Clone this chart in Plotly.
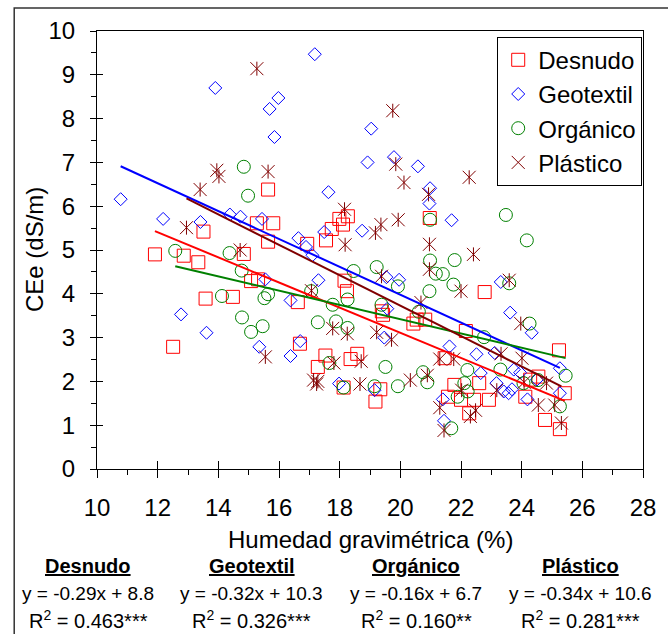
import plotly.graph_objects as go
import numpy as np

FONT = "Liberation Sans, Arial, sans-serif"

# ---------------- data ----------------
series_names = ["Desnudo", "Geotextil", "Orgánico", "Plástico"]

desnudo_x = [11.91, 12.51, 12.86, 13.34, 13.51, 13.58, 14.48, 14.84, 15.08, 15.31, 15.27, 15.64, 15.81, 15.64,
             16.62, 16.69, 16.93, 17.55, 17.74, 17.99, 18.27, 18.11, 18.16, 18.24, 17.53, 17.28, 18.13, 18.36,
             18.58, 19.34, 19.18, 19.39, 19.43, 20.43, 20.54, 20.82, 20.97, 21.46, 22.16, 22.78, 21.57, 21.78,
             22.00, 22.27, 22.43, 22.60, 22.92, 24.12, 24.28, 24.55, 25.23, 25.42, 24.77, 25.26]
desnudo_y = [4.90, 2.79, 4.87, 4.72, 5.42, 3.89, 3.93, 4.91, 4.29, 4.33, 5.61, 6.38, 5.61, 5.19,
             3.81, 2.86, 5.14, 5.22, 5.48, 5.71, 5.77, 5.58, 4.30, 4.06, 2.59, 2.33, 1.86, 2.51,
             2.63, 1.82, 1.54, 3.60, 3.52, 3.32, 3.41, 3.41, 5.73, 2.53, 3.15, 4.04, 1.65, 1.92,
             1.58, 1.27, 1.58, 1.96, 1.58, 1.65, 2.04, 2.11, 2.71, 1.73, 1.12, 0.91]

geotextil_x = [10.78, 12.18, 12.77, 13.41, 13.61, 13.90, 14.38, 14.73, 15.35, 15.44, 15.55, 15.69, 15.98, 15.85,
               16.38, 16.38, 16.64, 16.70, 16.89, 17.10, 17.18, 17.30, 17.49, 17.63, 17.98, 18.74, 18.92, 19.04,
               19.15, 19.47, 19.54, 19.57, 19.79, 19.96, 20.58, 20.98, 20.96, 21.40, 21.44, 21.62, 21.69, 22.51,
               22.65, 23.11, 23.17, 23.31, 23.41, 23.57, 23.62, 23.68, 23.74, 23.95, 24.19, 24.33, 24.50, 25.26,
               25.26]
geotextil_y = [6.16, 5.71, 3.53, 5.64, 3.11, 8.70, 5.81, 5.76, 2.79, 5.71, 4.33, 8.22, 8.47, 7.58,
               2.58, 3.85, 5.27, 2.92, 5.07, 4.88, 9.47, 4.31, 5.41, 6.32, 1.95, 5.44, 7.00, 7.77,
               1.80, 3.00, 4.38, 3.66, 7.12, 4.32, 6.91, 6.41, 6.06, 1.59, 1.10, 2.80, 5.68, 2.62,
               2.19, 2.65, 1.96, 4.27, 1.77, 1.73, 3.57, 1.82, 2.27, 2.20, 1.59, 3.11, 2.04, 2.30,
               1.73]

organico_x = [12.58, 14.12, 14.37, 14.77, 14.78, 14.84, 14.98, 15.08, 15.46, 15.52, 15.64, 17.06, 17.28, 17.66,
              17.77, 17.88, 18.13, 18.26, 18.26, 18.46, 19.15, 19.22, 19.38, 19.51, 19.92, 19.92, 20.61, 20.75,
              20.89, 20.96, 20.98, 20.98, 21.17, 21.40, 21.68, 21.79, 21.75, 21.89, 22.11, 22.22, 22.21, 22.76,
              23.30, 23.48, 23.59, 24.06, 24.17, 24.26, 24.54, 25.26, 25.45]
organico_y = [4.98, 3.95, 4.93, 4.53, 3.46, 6.90, 6.24, 3.13, 3.26, 3.90, 3.99, 4.06, 3.35, 2.42,
              3.75, 3.37, 1.86, 3.87, 3.22, 4.52, 1.89, 4.61, 3.75, 2.33, 1.89, 4.17, 3.59, 2.21,
              1.98, 4.06, 5.69, 4.76, 4.46, 4.45, 0.93, 4.77, 4.21, 1.65, 1.96, 1.77, 2.26, 3.01,
              2.27, 5.80, 4.24, 1.96, 5.22, 3.32, 2.03, 1.43, 2.13]

plastico_x = [12.95, 13.40, 13.95, 14.02, 14.72, 15.27, 15.55, 15.64, 17.07, 17.14, 17.24, 17.28, 17.77, 17.81,
              18.16, 18.18, 18.25, 18.67, 18.71, 19.18, 19.22, 19.36, 19.38, 19.71, 19.75, 19.85, 19.93, 20.12,
              20.33, 20.68, 20.89, 20.93, 20.96, 20.96, 21.30, 21.30, 21.44, 21.76, 22.00, 22.02, 22.27, 22.31,
              22.41, 22.48, 23.18, 23.32, 23.59, 23.97, 24.01, 24.08, 24.55, 24.82, 25.09, 25.31]
plastico_y = [5.51, 6.38, 6.82, 6.68, 5.00, 9.14, 2.56, 6.79, 4.07, 2.03, 1.94, 2.00, 3.21, 2.42,
              5.93, 5.12, 3.09, 1.94, 2.46, 5.39, 3.12, 5.58, 4.40, 2.95, 8.18, 6.96, 5.69, 6.54,
              2.03, 3.80, 2.14, 6.27, 5.13, 4.56, 2.51, 1.40, 0.88, 2.51, 4.06, 1.80, 6.66, 1.20,
              4.90, 1.34, 1.80, 2.63, 4.31, 3.32, 2.53, 1.98, 1.46, 1.96, 1.46, 1.05]

# regression lines (slope, intercept)
fit_slopes = [-0.287, -0.318, -0.163, -0.347]
fit_intercepts = [8.85, 10.34, 6.68, 10.67]

# text under the chart
eq_texts = ["y = -0.29x + 8.8", "y = -0.32x + 10.3", "y = -0.16x + 6.7", "y = -0.34x + 10.6"]
r2_texts = ["0.463***", "0.326***", "0.160**", "0.281***"]

x_range = [10, 28]
y_range = [0, 10]

# ---------------- styles ----------------
colors = ["#ff0000", "#0000ff", "#008000", "#800000"]
symbols = ["square-open", "diamond-open", "circle-open", "x-thin-open"]
sizes = [13, 10, 13, 13]
xs = [desnudo_x, geotextil_x, organico_x, plastico_x]
ys = [desnudo_y, geotextil_y, organico_y, plastico_y]

fig = go.Figure()
for i, name in enumerate(series_names):
    fig.add_trace(go.Scatter(
        x=xs[i], y=ys[i], mode="markers", name=name,
        marker=dict(symbol=symbols[i], size=sizes[i], color=colors[i],
                    line=dict(width=1, color=colors[i])),
    ))
# vertical strokes of the plástico asterisks
fig.add_trace(go.Scatter(
    x=plastico_x, y=plastico_y, mode="markers", showlegend=False,
    marker=dict(symbol="line-ns-open", size=10, color=colors[3], line=dict(width=1, color=colors[3])),
))
# regression lines
for i, name in enumerate(series_names):
    x0, x1 = min(xs[i]), max(xs[i])
    lx = np.array([x0, x1])
    ly = fit_slopes[i] * lx + fit_intercepts[i]
    fig.add_trace(go.Scatter(x=lx, y=ly, mode="lines", showlegend=False,
                             line=dict(color=colors[i], width=2)))
# dummy trace to render overlay axes (inner halves of major ticks)
fig.add_trace(go.Scatter(x=[None], y=[None], xaxis="x2", yaxis="y2", showlegend=False, hoverinfo="skip"))

L, R, T, B = 97, 17, 31, 165
W, H = 668, 634
pw, ph = W - L - R, H - T - B

axis_common = dict(showgrid=False, zeroline=False, linecolor="black", linewidth=1,
                   tickcolor="black", tickwidth=1, tickfont=dict(family=FONT, size=24, color="black"))

fig.update_layout(
    width=W, height=H,
    margin=dict(l=L, r=R, t=T, b=B, pad=0),
    paper_bgcolor="white", plot_bgcolor="white",
    font=dict(family=FONT, size=24, color="black"),
    xaxis=dict(range=x_range, dtick=2, tick0=10, ticks="outside", ticklen=8,
               showline=True, mirror=True, ticklabelstandoff=9,
               minor=dict(ticks="outside", ticklen=5, dtick=1, tickcolor="black", tickwidth=1),
               **axis_common),
    yaxis=dict(range=y_range, dtick=1, tick0=0, ticks="outside", ticklen=6,
               showline=True, mirror=True, ticklabelstandoff=10,
               minor=dict(ticks="outside", ticklen=5, dtick=0.5, tickcolor="black", tickwidth=1),
               **axis_common),
    xaxis2=dict(range=x_range, overlaying="x", anchor="y", side="bottom", dtick=2, tick0=10,
                ticks="inside", ticklen=8, showticklabels=False, showline=False,
                showgrid=False, zeroline=False, tickcolor="black", tickwidth=1),
    yaxis2=dict(range=y_range, overlaying="y", anchor="x", side="left", dtick=1, tick0=0,
                ticks="inside", ticklen=6, showticklabels=False, showline=False,
                showgrid=False, zeroline=False, tickcolor="black", tickwidth=1),
    legend=dict(x=0.733, y=0.987, xanchor="left", yanchor="top", tracegroupgap=0,
                bgcolor="white", bordercolor="black", borderwidth=1,
                font=dict(family=FONT, size=24, color="black"), itemsizing="trace"),
    showlegend=True,
)

# axis titles
fig.add_annotation(text="Humedad gravimétrica (%)", xref="paper", yref="paper", x=0.5, y=0,
                   xanchor="center", yanchor="middle", yshift=-70, showarrow=False,
                   font=dict(family=FONT, size=24, color="black"))
fig.add_annotation(text="CEe (dS/m)", xref="paper", yref="paper", x=0, y=0.5,
                   xanchor="center", yanchor="middle", xshift=-63, textangle=-90, showarrow=False,
                   font=dict(family=FONT, size=24, color="black"))

# equations below
col_px = [88, 254, 421, 587.6]
for i, name in enumerate(series_names):
    xp = (col_px[i] - L) / pw
    fig.add_annotation(text=f"<b><u>{name}</u></b>", xref="paper", yref="paper", x=xp, y=0,
                       xanchor="center", yanchor="middle", yshift=-(566 - (H - B)), showarrow=False,
                       font=dict(family=FONT, size=20, color="black"))
    fig.add_annotation(text=eq_texts[i], xref="paper", yref="paper", x=xp, y=0,
                       xanchor="center", yanchor="middle", yshift=-(593 - (H - B)), showarrow=False,
                       font=dict(family=FONT, size=19, color="black"))
    fig.add_annotation(text=f"R<sup>2</sup> = {r2_texts[i]}", xref="paper", yref="paper", x=xp, y=0,
                       xanchor="center", yanchor="middle", yshift=-(619 - (H - B)), showarrow=False,
                       font=dict(family=FONT, size=20, color="black"))

# outer frame of the figure
fig.add_shape(type="rect", xref="paper", yref="paper",
              x0=(13 - L) / pw, x1=(W + 20 - L) / pw,
              y0=(H - B - 8) / ph, y1=-(B + 20) / ph,
              line=dict(color="#333333", width=1.5), fillcolor="rgba(0,0,0,0)", layer="above")

fig.write_html("out.html", config={"displayModeBar": False},
               post_script="document.body.style.margin='0';document.body.style.overflow='hidden';")
